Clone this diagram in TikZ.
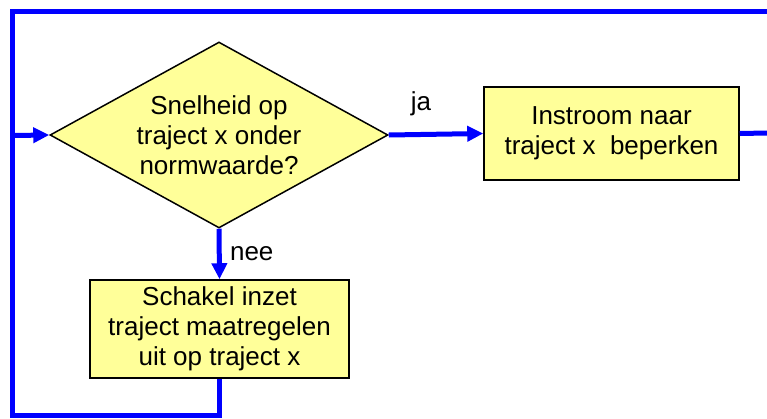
\documentclass[tikz,border=0pt]{standalone}
\usepackage{fontspec}
\setmainfont{Liberation Sans}
\usetikzlibrary{arrows.meta,shapes.geometric}
\definecolor{boxfill}{HTML}{FFFF99}
\definecolor{flowblue}{HTML}{0000FF}

\begin{document}
\begin{tikzpicture}[x=1pt,y=-1pt,
  act/.style={rectangle,draw,line width=1.5pt,fill=boxfill,align=center,
    font=\fontsize{26}{30}\selectfont},
  dec/.style={diamond,draw,line width=1.5pt,fill=boxfill,align=center,aspect=1.81,
    inner sep=0pt,minimum width=338pt,minimum height=186pt,font=\fontsize{26}{30}\selectfont},
  flow/.style={draw=flowblue,line width=5pt},
  tip/.style={-{Triangle[length=16pt,width=15pt]}},
  lbl/.style={font=\fontsize{26}{30}\selectfont},
]
  \useasboundingbox (0,0) rectangle (767,418);
  \node[dec] (vraag) at (219,135) {Snelheid op\\traject x onder\\normwaarde?};
  \node[act,minimum width=255pt,minimum height=93pt] (instroom) at (611.5,133.5)
    {Instroom naar\\traject x~~beperken};
  \node[act,minimum width=259pt,minimum height=98pt] (schakel) at (219.5,329)
    {Schakel inzet\\traject maatregelen\\uit op traject x};
  \coordinate (lb) at (12,415);
  \coordinate (lt) at (12,11);
  \coordinate (rt) at (767,11);
  \coordinate (in) at (12,135.5);
  \coordinate (uit) at (767,133);
  \draw[flow,tip] (vraag.east) -- node[lbl,pos=0.34,above=13pt] (ja) {ja} (instroom.west);
  \draw[flow,tip] (vraag.south) -- node[lbl,midway,right=5pt] (nee) {nee} (schakel.north);
  \draw[flow] (schakel.south) |- (lb) -- (lt) -- (rt);
  \draw[flow,tip] (in) -- (vraag.west);
  \draw[flow] (instroom.east) -- (uit);
\end{tikzpicture}
\end{document}
